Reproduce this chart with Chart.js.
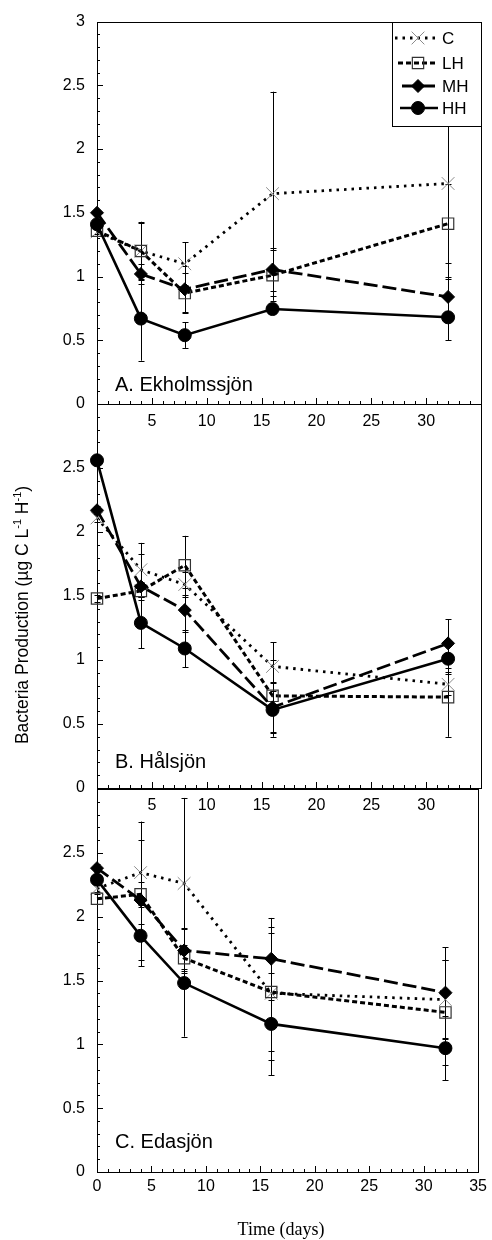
<!DOCTYPE html>
<html>
<head>
<meta charset="utf-8">
<script src="https://cdn.jsdelivr.net/npm/chart.js"></script>
<style>
  html, body { margin: 0; padding: 0; background: #fff; }
  #wrap { position: relative; width: 492px; height: 1240px; }
  #wrap canvas { position: absolute; left: 0; top: 0; }
</style>
</head>
<body>
<div id="wrap">
  <canvas id="panelA" width="492" height="1240"></canvas>
  <canvas id="panelB" width="492" height="1240"></canvas>
  <canvas id="panelC" width="492" height="1240"></canvas>
</div>
<script>
// Sampling days and series (treatments)
const days = [0, 4, 8, 16, 32];
const seriesNames = ['C', 'LH', 'MH', 'HH'];
const xTicks = [0, 5, 10, 15, 20, 25, 30, 35];
const yTicks = [0, 0.5, 1, 1.5, 2, 2.5, 3];

// A. Ekholmssjön - means and error (+/-)
const ekC = [1.35, 1.20, 1.10, 1.65, 1.73];
const ekLH = [1.36, 1.20, 0.87, 1.01, 1.415];
const ekMH = [1.50, 1.02, 0.90, 1.055, 0.84];
const ekHH = [1.41, 0.67, 0.54, 0.745, 0.68];
const ekC_err = [0.03, 0.22, 0.17, 0.80, 0.75];
const ekLH_err = [0.03, 0.23, 0.16, 0.20, 0.31];
const ekMH_err = [0.02, 0.08, 0.18, 0.17, 0.16];
const ekHH_err = [0.04, 0.33, 0.10, 0.03, 0.18];

// B. Hålsjön
const haC = [2.11, 1.705, 1.59, 0.95, 0.81];
const haLH = [1.48, 1.54, 1.74, 0.72, 0.71];
const haMH = [2.17, 1.575, 1.39, 0.63, 1.13];
const haHH = [2.56, 1.29, 1.09, 0.61, 1.01];
const haC_err = [0.03, 0.21, 0.10, 0.19, 0.08];
const haLH_err = [0.03, 0.07, 0.23, 0.28, 0.31];
const haMH_err = [0.03, 0.25, 0.17, 0.20, 0.19];
const haHH_err = [0.03, 0.20, 0.145, 0.21, 0.10];

// C. Edasjön
const edC = [2.22, 2.345, 2.26, 1.40, 1.35];
const edLH = [2.14, 2.175, 1.675, 1.41, 1.25];
const edMH = [2.38, 2.13, 1.735, 1.67, 1.405];
const edHH = [2.29, 1.85, 1.48, 1.16, 0.97];
const edC_err = [0.03, 0.40, 0.67, 0.52, 0.31];
const edLH_err = [0.04, 0.10, 0.10, 0.46, 0.41];
const edMH_err = [0.03, 0.47, 0.18, 0.32, 0.355];
const edHH_err = [0.03, 0.24, 0.42, 0.40, 0.25];

const SANS = '"Liberation Sans", Arial, sans-serif';
const SERIF = '"Liberation Serif", "Times New Roman", serif';

// line + marker look of each treatment
const seriesStyle = {
    C:  { width: 2.8, dash: [2.5, 5], point: 'crossRot', radius: 9, pointBorder: '#8a8a8a', pointFill: 'rgba(0,0,0,0)', pointBorderWidth: 1 },
    LH: { width: 3, dash: [5, 3], point: 'rect', radius: 8, pointBorder: '#333', pointFill: 'rgba(0,0,0,0)', pointBorderWidth: 1.2 },
    MH: { width: 2.8, dash: [14, 5], point: 'rectRot', radius: 6.5, pointBorder: '#000', pointFill: '#000', pointBorderWidth: 1 },
    HH: { width: 2.6, dash: [], point: 'circle', radius: 6.5, pointBorder: '#000', pointFill: '#000', pointBorderWidth: 1 }
};

// Frame, inward ticks and error bars - drawn under the markers
const framePlugin = {
    id: 'frame',
    beforeDatasetsDraw(chart) {
        const { ctx, chartArea: a, scales: { x, y } } = chart;
        ctx.save();
        ctx.strokeStyle = '#000';
        ctx.lineWidth = 1;
        ctx.setLineDash([]);
        ctx.strokeRect(Math.round(a.left) + 0.5, Math.round(a.top) + 0.5,
            Math.round(a.right - a.left), Math.round(a.bottom - a.top));

        ctx.beginPath();
        for (let i = 0; i <= 30; i++) {
            const py = Math.round(y.getPixelForValue(i / 10)) + 0.5;
            const len = i % 5 === 0 ? 6 : 3;
            ctx.moveTo(a.left, py);
            ctx.lineTo(a.left + len, py);
        }
        for (let i = 0; i <= 35; i++) {
            const px = Math.round(x.getPixelForValue(i)) + 0.5;
            const len = i % 5 === 0 ? 6 : 3;
            ctx.moveTo(px, a.bottom);
            ctx.lineTo(px, a.bottom - len);
        }
        ctx.stroke();

        // error bars
        ctx.beginPath();
        chart.data.datasets.forEach(ds => {
            ds.data.forEach((pt, i) => {
                const e = ds.errors[i];
                const px = Math.round(x.getPixelForValue(pt.x)) + 0.5;
                const top = y.getPixelForValue(pt.y + e);
                const bot = y.getPixelForValue(pt.y - e);
                ctx.moveTo(px, top);
                ctx.lineTo(px, bot);
                ctx.moveTo(px - 3, Math.round(top) + 0.5);
                ctx.lineTo(px + 3, Math.round(top) + 0.5);
                ctx.moveTo(px - 3, Math.round(bot) + 0.5);
                ctx.lineTo(px + 3, Math.round(bot) + 0.5);
            });
        });
        ctx.stroke();
        ctx.restore();
    }
};

function drawMarker(ctx, st, cx, cy) {
    ctx.save();
    ctx.setLineDash([]);
    ctx.strokeStyle = st.pointBorder;
    ctx.fillStyle = st.pointFill;
    ctx.lineWidth = st.pointBorderWidth;
    Chart.helpers.drawPoint(ctx, {
        pointStyle: st.point, radius: st.radius, rotation: 0, borderWidth: st.pointBorderWidth
    }, cx, cy);
    ctx.restore();
}

// Panel label, legend and axis titles
const textPlugin = {
    id: 'texts',
    afterDraw(chart, args, opts) {
        const { ctx, chartArea: a } = chart;
        ctx.save();
        ctx.fillStyle = '#000';
        ctx.textBaseline = 'alphabetic';
        ctx.textAlign = 'left';
        ctx.font = '20px ' + SANS;
        ctx.fillText(opts.label, 115, a.bottom - opts.labelLift);

        if (opts.legend) {
            const bx = 392, by = Math.round(a.top) + 0.5, bw = Math.round(a.right) - 392, bh = 104;
            ctx.fillStyle = '#fff';
            ctx.fillRect(bx, by, bw, bh);
            ctx.strokeStyle = '#000';
            ctx.lineWidth = 1;
            ctx.strokeRect(bx + 0.5, by, bw, bh);
            const rows = [38, 63, 86, 108];
            const starts = [395, 398, 402, 400];
            seriesNames.forEach((name, i) => {
                const st = seriesStyle[name];
                ctx.save();
                ctx.strokeStyle = '#000';
                ctx.lineWidth = st.width;
                ctx.setLineDash(st.dash);
                ctx.beginPath();
                ctx.moveTo(starts[i], rows[i]);
                ctx.lineTo(438, rows[i]);
                ctx.stroke();
                ctx.restore();
                drawMarker(ctx, st, 418, rows[i]);
                ctx.fillStyle = '#000';
                ctx.font = '17px ' + SANS;
                ctx.textBaseline = 'middle';
                ctx.fillText(name, 442, rows[i] + 1);
            });
        }

        if (opts.yTitle) {
            // rotated title with superscript exponents
            const parts = [
                ['Bacteria Production (µg C L', false], ['-1', true],
                [' H', false], ['-1', true], [')', false]
            ];
            const big = '17.5px ' + SANS, small = '11px ' + SANS;
            let total = 0;
            parts.forEach(p => { ctx.font = p[1] ? small : big; total += ctx.measureText(p[0]).width; });
            ctx.translate(23, 615);
            ctx.rotate(-Math.PI / 2);
            ctx.textBaseline = 'middle';
            let cx = -total / 2;
            parts.forEach(p => {
                ctx.font = p[1] ? small : big;
                ctx.fillText(p[0], cx, p[1] ? -5 : 0);
                cx += ctx.measureText(p[0]).width;
            });
            ctx.setTransform(1, 0, 0, 1, 0, 0);
        }

        if (opts.xTitle) {
            ctx.font = '18px ' + SERIF;
            ctx.textAlign = 'center';
            ctx.textBaseline = 'middle';
            ctx.fillText('Time (days)', 281, 1230);
        }
        ctx.restore();
    }
};

function makePanel(canvasId, p) {
    const datasets = seriesNames.map((name, i) => {
        const st = seriesStyle[name];
        return {
            label: name,
            data: days.map((d, j) => ({ x: d, y: p.values[i][j] })),
            errors: p.errors[i],
            order: 3 - i,
            borderColor: '#000',
            borderWidth: st.width,
            borderDash: st.dash,
            pointStyle: st.point,
            pointRadius: st.radius,
            pointHoverRadius: st.radius,
            pointBorderColor: st.pointBorder,
            pointBackgroundColor: st.pointFill,
            pointBorderWidth: st.pointBorderWidth,
            tension: 0,
            fill: false,
            clip: false
        };
    });

    return new Chart(document.getElementById(canvasId), {
        type: 'line',
        data: { datasets: datasets },
        options: {
            responsive: false,
            animation: false,
            events: [],
            layout: { padding: { left: 0, right: 11, top: p.top, bottom: 1240 - p.bottom - 40 } },
            plugins: {
                legend: { display: false },
                tooltip: { enabled: false },
                texts: { label: p.label, labelLift: p.labelLift, legend: p.legend, yTitle: p.yTitle, xTitle: p.xTitle }
            },
            scales: {
                x: {
                    type: 'linear',
                    min: 0,
                    max: 35,
                    afterFit: s => { s.height = 40; },
                    afterBuildTicks: s => { s.ticks = xTicks.map(v => ({ value: v })); },
                    grid: { display: false, drawTicks: false },
                    border: { display: false },
                    ticks: {
                        font: { family: SANS, size: 16 },
                        color: '#000',
                        padding: p.xPad,
                        maxRotation: 0,
                        autoSkip: false,
                        callback: v => (p.hideXEnds && (v === 0 || v === 35)) ? '' : String(v)
                    }
                },
                y: {
                    type: 'linear',
                    min: 0,
                    max: 3,
                    afterFit: s => { s.width = 97; },
                    afterBuildTicks: s => { s.ticks = yTicks.map(v => ({ value: v })); },
                    grid: { display: false, drawTicks: false },
                    border: { display: false },
                    ticks: {
                        font: { family: SANS, size: 16 },
                        color: '#000',
                        padding: 12,
                        callback: v => (p.hideYTop && v === 3) ? '' : String(v)
                    }
                }
            }
        },
        plugins: [framePlugin, textPlugin]
    });
}

makePanel('panelA', {
    values: [ekC, ekLH, ekMH, ekHH],
    errors: [ekC_err, ekLH_err, ekMH_err, ekHH_err],
    top: 21, bottom: 404, label: 'A. Ekholmssjön', labelLift: 13,
    legend: true, yTitle: false, xTitle: false, hideXEnds: true, hideYTop: false, xPad: 8
});
makePanel('panelB', {
    values: [haC, haLH, haMH, haHH],
    errors: [haC_err, haLH_err, haMH_err, haHH_err],
    top: 404, bottom: 788, label: 'B. Hålsjön', labelLift: 20,
    legend: false, yTitle: true, xTitle: false, hideXEnds: true, hideYTop: true, xPad: 8
});
makePanel('panelC', {
    values: [edC, edLH, edMH, edHH],
    errors: [edC_err, edLH_err, edMH_err, edHH_err],
    top: 789, bottom: 1172, label: 'C. Edasjön', labelLift: 24,
    legend: false, yTitle: false, xTitle: true, hideXEnds: false, hideYTop: true, xPad: 5
});
</script>
</body>
</html>
